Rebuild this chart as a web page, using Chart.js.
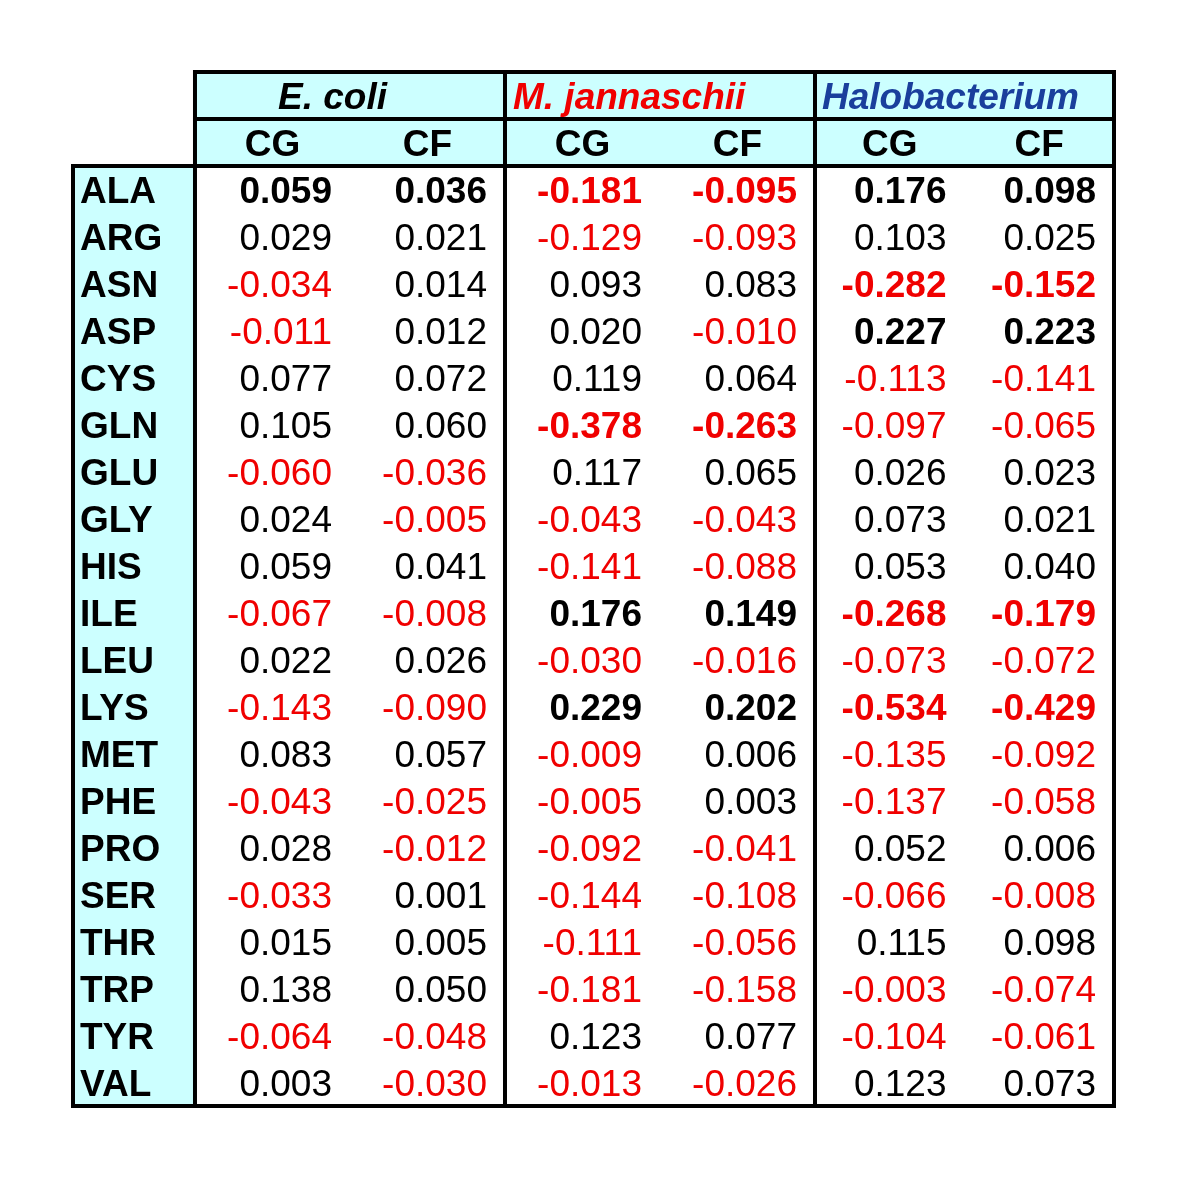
<!DOCTYPE html>
<html>
<head>
    <title>Amino acid CG / CF table</title>
    <script src="https://cdn.jsdelivr.net/npm/chart.js@4.4.1/dist/chart.umd.min.js"></script>
    <style>
        body { margin: 0; background: #ffffff; }
        #chart-container { width: 1199px; height: 1178px; }
    </style>
</head>
<body>
    <div id="chart-container">
        <canvas id="chart"></canvas>
    </div>

    <script>
        // row labels
        const aminoAcids = ['ALA', 'ARG', 'ASN', 'ASP', 'CYS', 'GLN', 'GLU', 'GLY', 'HIS', 'ILE',
            'LEU', 'LYS', 'MET', 'PHE', 'PRO', 'SER', 'THR', 'TRP', 'TYR', 'VAL'];

        const species = ['E. coli', 'M. jannaschii', 'Halobacterium'];
        const subColumns = ['CG', 'CF'];

        // values per column
        const ecoliCG = [0.059, 0.029, -0.034, -0.011, 0.077, 0.105, -0.060, 0.024, 0.059, -0.067,
            0.022, -0.143, 0.083, -0.043, 0.028, -0.033, 0.015, 0.138, -0.064, 0.003];
        const ecoliCF = [0.036, 0.021, 0.014, 0.012, 0.072, 0.060, -0.036, -0.005, 0.041, -0.008,
            0.026, -0.090, 0.057, -0.025, -0.012, 0.001, 0.005, 0.050, -0.048, -0.030];
        const mjanCG = [-0.181, -0.129, 0.093, 0.020, 0.119, -0.378, 0.117, -0.043, -0.141, 0.176,
            -0.030, 0.229, -0.009, -0.005, -0.092, -0.144, -0.111, -0.181, 0.123, -0.013];
        const mjanCF = [-0.095, -0.093, 0.083, -0.010, 0.064, -0.263, 0.065, -0.043, -0.088, 0.149,
            -0.016, 0.202, 0.006, 0.003, -0.041, -0.108, -0.056, -0.158, 0.077, -0.026];
        const haloCG = [0.176, 0.103, -0.282, 0.227, -0.113, -0.097, 0.026, 0.073, 0.053, -0.268,
            -0.073, -0.534, -0.135, -0.137, 0.052, -0.066, 0.115, -0.003, -0.104, 0.123];
        const haloCF = [0.098, 0.025, -0.152, 0.223, -0.141, -0.065, 0.023, 0.021, 0.040, -0.179,
            -0.072, -0.429, -0.092, -0.058, 0.006, -0.008, 0.098, -0.074, -0.061, 0.073];

        // rows printed in bold, per species
        const ecoliBold = ['ALA'];
        const mjanBold = ['ALA', 'GLN', 'ILE', 'LYS'];
        const haloBold = ['ALA', 'ASN', 'ASP', 'ILE', 'LYS'];

        const columns = [ecoliCG, ecoliCF, mjanCG, mjanCF, haloCG, haloCF];
        const boldLists = [ecoliBold, mjanBold, haloBold];

        // layout / styles
        const colEdges = [0, 1, 2, 3, 4, 4.9645, 5.929];   // column boundaries on the x scale
        const labelColWidth = 0.787;
        const fontFamily = '"Liberation Sans", Arial, sans-serif';
        const fontSize = 37;
        const cyan = '#ccffff';
        const red = '#f00000';
        const speciesColors = ['#000000', '#f00000', '#1a3f9c'];
        const speciesOffset = [83, 8, 7];   // header text left inset
        const headerRows = 2;

        const datasets = columns.map((col, c) => ({
            label: species[Math.floor(c / 2)] + ' ' + subColumns[c % 2],
            data: col.map((v, i) => ({
                x: (colEdges[c] + colEdges[c + 1]) / 2,
                y: i + headerRows + 0.5,
                v: v,
                aa: aminoAcids[i]
            })),
            pointRadius: 0,
            showLine: false,
        }));

        const tablePlugin = {
            id: 'tablePlugin',
            beforeDatasetsDraw(chart) {
                const ctx = chart.ctx;
                const xs = chart.scales.x, ys = chart.scales.y;
                const xl = xs.getPixelForValue(-labelColWidth), xd = xs.getPixelForValue(0);
                const xr = xs.getPixelForValue(colEdges[6]);
                const y0 = ys.getPixelForValue(0), y2 = ys.getPixelForValue(headerRows);
                const yb = ys.getPixelForValue(headerRows + aminoAcids.length);
                ctx.save();
                ctx.fillStyle = cyan;
                ctx.fillRect(xd, y0, xr - xd, y2 - y0);
                ctx.fillRect(xl, y2, xd - xl, yb - y2);
                ctx.restore();
            },
            afterDatasetsDraw(chart) {
                const ctx = chart.ctx;
                const xs = chart.scales.x, ys = chart.scales.y;
                const px = v => xs.getPixelForValue(v);
                const xl = px(-labelColWidth), xd = px(0), xr = px(colEdges[6]);
                const y0 = ys.getPixelForValue(0), y1 = ys.getPixelForValue(1), y2 = ys.getPixelForValue(headerRows);
                const yb = ys.getPixelForValue(headerRows + aminoAcids.length);
                const base = fontSize * 0.37;

                ctx.save();
                // species header
                species.forEach((s, g) => {
                    ctx.font = 'italic bold ' + fontSize + 'px ' + fontFamily;
                    ctx.fillStyle = speciesColors[g];
                    ctx.textAlign = 'left';
                    ctx.textBaseline = 'alphabetic';
                    ctx.fillText(s, px(colEdges[g * 2]) + speciesOffset[g], ys.getPixelForValue(0.5) + base);
                    subColumns.forEach((sc, k) => {
                        const c = g * 2 + k;
                        ctx.font = 'bold ' + fontSize + 'px ' + fontFamily;
                        ctx.fillStyle = '#000000';
                        ctx.textAlign = 'center';
                        ctx.fillText(sc, px((colEdges[c] + colEdges[c + 1]) / 2), ys.getPixelForValue(1.5) + base);
                    });
                });

                // row labels
                aminoAcids.forEach((aa, i) => {
                    ctx.font = 'bold ' + fontSize + 'px ' + fontFamily;
                    ctx.fillStyle = '#000000';
                    ctx.textAlign = 'left';
                    ctx.fillText(aa, xl + 7, ys.getPixelForValue(i + headerRows + 0.5) + base);
                });

                // values, placed on each point
                chart.data.datasets.forEach((ds, c) => {
                    const meta = chart.getDatasetMeta(c);
                    const bold = boldLists[Math.floor(c / 2)];
                    const right = px(colEdges[c + 1]) - 18;
                    meta.data.forEach((pt, i) => {
                        const d = ds.data[i];
                        ctx.font = (bold.includes(d.aa) ? 'bold ' : '') + fontSize + 'px ' + fontFamily;
                        ctx.fillStyle = d.v < 0 ? red : '#000000';
                        ctx.textAlign = 'right';
                        ctx.fillText(d.v.toFixed(3), right, pt.y + base);
                    });
                });

                // borders
                ctx.strokeStyle = '#000000';
                ctx.lineWidth = 4;
                ctx.lineCap = 'square';
                const line = (ax, ay, bx, by) => {
                    ctx.beginPath();
                    ctx.moveTo(ax, ay);
                    ctx.lineTo(bx, by);
                    ctx.stroke();
                };
                line(xd, y0, xr, y0);
                line(xd, y1, xr, y1);
                line(xl, y2, xr, y2);
                line(xl, yb, xr, yb);
                line(xl, y2, xl, yb);
                [0, 2, 4, 6].forEach(e => {
                    const x = px(colEdges[e]);
                    line(x, y0, x, yb);
                });
                ctx.restore();
            }
        };

        new Chart(document.getElementById('chart'), {
            type: 'scatter',
            data: { datasets: datasets },
            options: {
                responsive: true,
                maintainAspectRatio: false,
                animation: false,
                events: [],
                layout: { padding: { left: 73, right: 85, top: 72, bottom: 72 } },
                plugins: { legend: { display: false }, tooltip: { enabled: false } },
                scales: {
                    x: { type: 'linear', min: -labelColWidth, max: colEdges[6], display: false },
                    y: { type: 'linear', min: 0, max: headerRows + aminoAcids.length, reverse: true, display: false }
                }
            },
            plugins: [tablePlugin]
        });
    </script>
</body>
</html>
